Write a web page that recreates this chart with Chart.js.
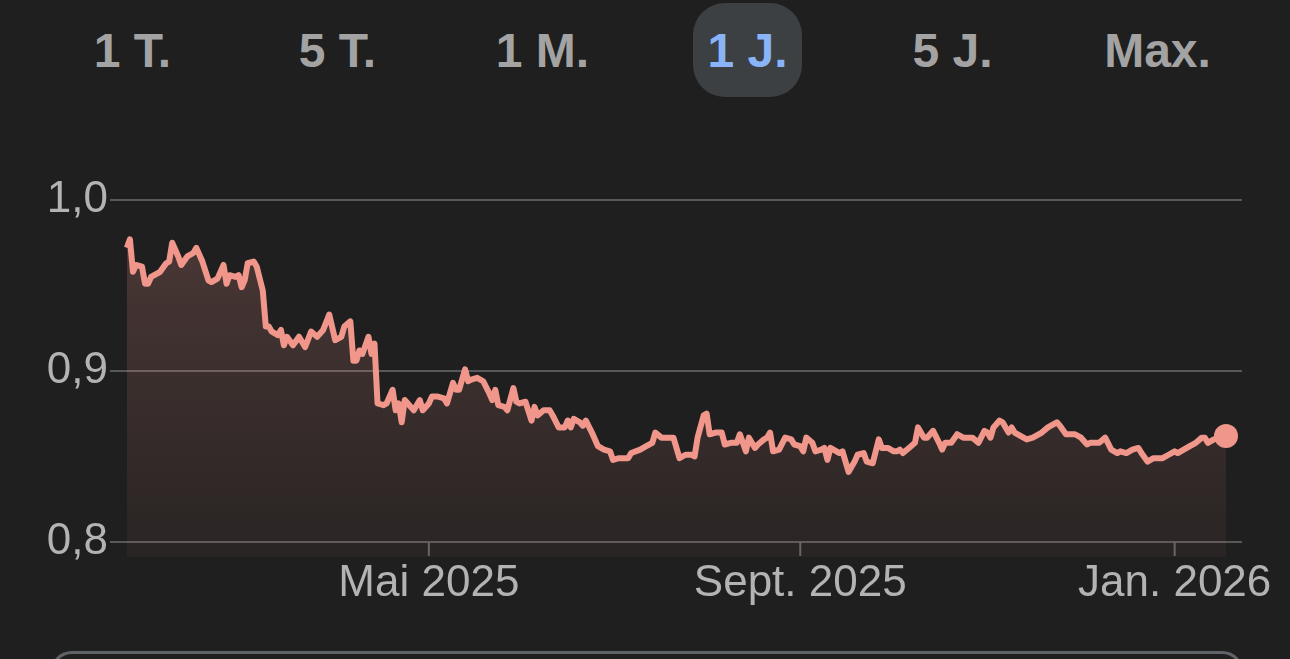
<!DOCTYPE html>
<html>
<head>
<meta charset="utf-8">
<script src="https://cdn.jsdelivr.net/npm/chart.js@4.4.1/dist/chart.umd.min.js"></script>
<style>
  html, body { margin: 0; padding: 0; background: #1f1f1f; overflow: hidden; }
  body { width: 1290px; height: 659px; position: relative; font-family: "Liberation Sans", Arial, sans-serif; }
  #ranges { position: absolute; left: 30px; top: 0; height: 100px; display: flex; }
  #ranges div { width: 205px; display: flex; align-items: center; justify-content: center; }
  #ranges span { font-size: 48px; font-weight: bold; color: #a3a3a3; padding: 0 14px; height: 94px; line-height: 96px; border-radius: 32px; }
  #ranges span.on { background: #3c4043; color: #8ab4f8; }
  #wrap { position: absolute; left: 0; top: 0; width: 1290px; height: 659px; }
  #card { position: absolute; left: 50px; top: 651px; width: 1188px; height: 100px; border: 3px solid #5f6368; border-radius: 22px; }
</style>
</head>
<body>
<div id="ranges"></div>
<div id="wrap"><canvas id="myChart"></canvas></div>
<div id="card"></div>
<script>
// Zeitraum-Buttons
const ranges = ['1 T.', '5 T.', '1 M.', '1 J.', '5 J.', 'Max.'];
const activeRange = '1 J.';

// Tage seit 20.01.2025 und Kurswerte
const days = [
    0, 1, 2, 3, 5, 6, 7, 8, 11, 13, 14, 15, 17, 18, 20, 22, 23, 25, 27, 28,
    30, 32, 33, 34, 36, 37, 38, 39, 40, 42, 43, 45, 46, 47, 48, 50, 51, 52, 53, 55,
    57, 59, 61, 63, 65, 67, 69, 71, 72, 74, 75, 76, 77, 78, 80, 81, 82, 83, 85, 86,
    88, 89, 90, 91, 92, 95, 97, 98, 100, 101, 103, 105, 106, 108, 109, 110, 112, 113, 114, 116,
    118, 120, 121, 122, 123, 125, 126, 128, 129, 130, 132, 134, 135, 136, 138, 140, 141, 143, 145, 146,
    147, 148, 150, 151, 152, 154, 156, 158, 160, 161, 163, 166, 167, 170, 172, 174, 175, 177, 178, 181,
    183, 185, 187, 188, 189, 191, 192, 193, 195, 197, 198, 200, 202, 203, 205, 206, 208, 209, 211, 212,
    213, 214, 216, 218, 220, 221, 223, 224, 225, 227, 228, 230, 231, 232, 233, 234, 236, 237, 239, 241,
    242, 244, 245, 247, 249, 250, 252, 254, 255, 256, 257, 259, 261, 262, 264, 265, 267, 269, 270, 271,
    273, 275, 277, 280, 282, 284, 285, 286, 287, 289, 290, 292, 293, 294, 298, 300, 303, 305, 308, 309,
    311, 314, 316, 318, 319, 322, 324, 326, 328, 329, 331, 333, 335, 336, 338, 340, 343, 345, 347, 348,
    350, 352, 354, 356, 357, 358, 360, 362, 364
];
const values = [
    0.972, 0.977, 0.958, 0.962, 0.961, 0.951, 0.951, 0.955, 0.958, 0.963, 0.964, 0.975, 0.967, 0.962, 0.967, 0.969, 0.972, 0.964, 0.953, 0.952,
    0.954, 0.962, 0.951, 0.956, 0.955, 0.956, 0.949, 0.953, 0.963, 0.964, 0.961, 0.947, 0.926, 0.926, 0.923, 0.921, 0.924, 0.915, 0.920, 0.915,
    0.920, 0.914, 0.923, 0.920, 0.924, 0.933, 0.918, 0.920, 0.926, 0.929, 0.906, 0.906, 0.912, 0.910, 0.920, 0.910, 0.916, 0.881, 0.880, 0.881,
    0.889, 0.877, 0.881, 0.870, 0.883, 0.877, 0.883, 0.877, 0.881, 0.885, 0.885, 0.884, 0.881, 0.893, 0.889, 0.889, 0.901, 0.894, 0.895, 0.896,
    0.894, 0.887, 0.883, 0.889, 0.880, 0.879, 0.877, 0.890, 0.882, 0.881, 0.882, 0.871, 0.879, 0.874, 0.877, 0.877, 0.874, 0.867, 0.867, 0.871,
    0.867, 0.872, 0.870, 0.868, 0.871, 0.864, 0.856, 0.854, 0.853, 0.848, 0.849, 0.849, 0.852, 0.854, 0.856, 0.858, 0.864, 0.861, 0.861, 0.861,
    0.849, 0.851, 0.851, 0.850, 0.861, 0.874, 0.875, 0.863, 0.864, 0.864, 0.857, 0.858, 0.858, 0.863, 0.853, 0.861, 0.855, 0.857, 0.860, 0.861,
    0.864, 0.853, 0.854, 0.861, 0.860, 0.857, 0.856, 0.853, 0.861, 0.858, 0.853, 0.854, 0.855, 0.848, 0.855, 0.854, 0.852, 0.853, 0.841, 0.847,
    0.851, 0.852, 0.847, 0.846, 0.860, 0.855, 0.855, 0.853, 0.853, 0.854, 0.852, 0.855, 0.858, 0.867, 0.861, 0.861, 0.865, 0.858, 0.854, 0.858,
    0.858, 0.863, 0.861, 0.861, 0.858, 0.865, 0.864, 0.861, 0.867, 0.871, 0.870, 0.864, 0.867, 0.864, 0.860, 0.861, 0.864, 0.867, 0.870, 0.868,
    0.863, 0.863, 0.861, 0.857, 0.858, 0.858, 0.861, 0.854, 0.852, 0.853, 0.852, 0.854, 0.855, 0.852, 0.847, 0.849, 0.849, 0.851, 0.853, 0.852,
    0.854, 0.856, 0.858, 0.861, 0.861, 0.858, 0.860, 0.861, 0.862
];

// Achsen
const xTickDays = [100, 223, 347];
const xTickLabels = ['Mai 2025', 'Sept. 2025', 'Jan. 2026'];
const yTicks = [0.8, 0.9, 1.0];

const lineColor = '#f0968b';
const labelColor = '#b3b3b3';

// Buttons oben
const rangesEl = document.getElementById('ranges');
ranges.forEach(r => {
    const d = document.createElement('div');
    const s = document.createElement('span');
    s.textContent = r;
    if (r === activeRange) s.className = 'on';
    d.appendChild(s);
    rangesEl.appendChild(d);
});

// kleine Striche unter der 0,8-Linie
const tickMarks = {
    id: 'tickMarks',
    afterDatasetsDraw(chart) {
        const x = chart.scales.x, y = chart.scales.y;
        const top = y.getPixelForValue(yTicks[0]);
        const c = chart.ctx;
        c.save();
        c.strokeStyle = '#676767';
        c.lineWidth = 2;
        xTickDays.forEach(d => {
            const px = x.getPixelForValue(d);
            c.beginPath();
            c.moveTo(px, top);
            c.lineTo(px, top + 14);
            c.stroke();
        });
        c.restore();
    }
};

const ctx = document.getElementById('myChart').getContext('2d');
const myChart = new Chart(ctx, {
    type: 'line',
    data: {
        datasets: [{
            data: days.map((d, i) => ({ x: d, y: values[i] })),
            borderColor: lineColor,
            borderWidth: 6,
            borderJoinStyle: 'round',
            tension: 0,
            fill: 'start',
            backgroundColor: (c) => {
                const area = c.chart.chartArea;
                if (!area) return 'rgba(240,150,139,0.15)';
                const g = c.chart.ctx.createLinearGradient(0, area.top, 0, area.bottom);
                g.addColorStop(0, 'rgba(240,150,139,0.22)');
                g.addColorStop(1, 'rgba(240,150,139,0.05)');
                return g;
            },
            pointRadius: (c) => c.dataIndex === values.length - 1 ? 12 : 0,
            pointBackgroundColor: lineColor,
            pointBorderWidth: 0,
            clip: false
        }]
    },
    options: {
        responsive: true,
        maintainAspectRatio: false,
        animation: false,
        events: [],
        layout: { padding: { left: 0, right: 48, top: 200, bottom: 0 } },
        plugins: { legend: { display: false }, tooltip: { enabled: false } },
        scales: {
            x: {
                type: 'linear',
                min: -5.6,
                max: 369.3,
                afterBuildTicks: (s) => { s.ticks = xTickDays.map(v => ({ value: v })); },
                afterFit: (s) => { s.height = 102; },
                grid: { display: false },
                border: { display: false },
                ticks: {
                    autoSkip: false,
                    maxRotation: 0,
                    padding: -8,
                    color: labelColor,
                    font: { family: 'Liberation Sans', size: 44 },
                    callback: (v) => xTickLabels[xTickDays.indexOf(v)]
                }
            },
            y: {
                min: 0.7912,
                max: 1.0,
                afterBuildTicks: (s) => { s.ticks = yTicks.map(v => ({ value: v })); },
                afterFit: (s) => { s.width = 110; },
                grid: { color: '#585858', lineWidth: 2, drawTicks: false },
                border: { display: false },
                ticks: {
                    padding: 2,
                    color: labelColor,
                    font: { family: 'Liberation Sans', size: 44 },
                    callback: (v) => v.toFixed(1).replace('.', ',')
                }
            }
        }
    },
    plugins: [tickMarks]
});
</script>
</body>
</html>
